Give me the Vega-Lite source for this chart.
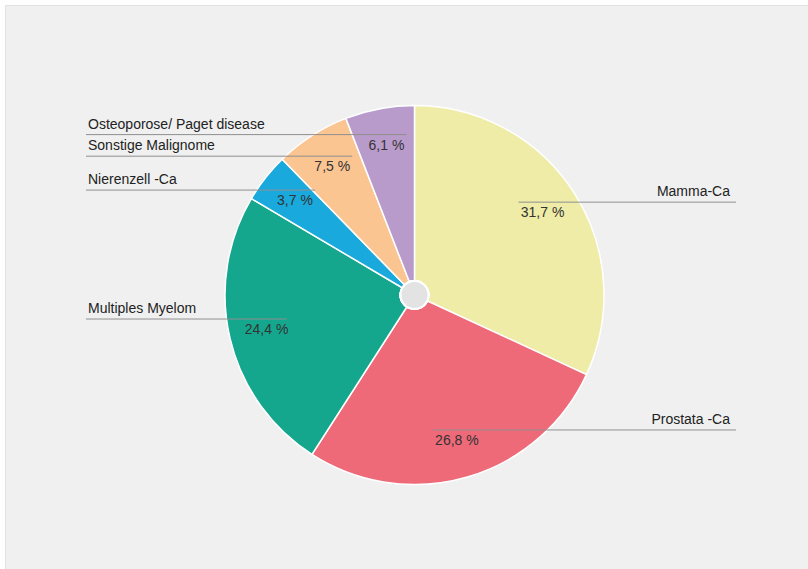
{
  "$schema": "https://vega.github.io/schema/vega-lite/v6.json",
  "width": 808,
  "height": 569,
  "autosize": {"type": "fit", "contains": "padding"},
  "padding": {"left": 5, "top": 5, "right": 0, "bottom": 0},
  "background": "#ffffff",
  "config": {
    "view": {"fill": "#f0f0f0", "stroke": "#e2e2e2", "strokeWidth": 1},
    "font": "Liberation Sans"
  },
  "data": {
    "values": [
      {"cat": "Mamma-Ca", "value": 31.7, "slice": 31.9, "order": 1},
      {"cat": "Prostata -Ca", "value": 26.8, "slice": 27.2, "order": 2},
      {"cat": "Multiples Myelom", "value": 24.4, "slice": 24.4, "order": 3},
      {"cat": "Nierenzell -Ca", "value": 3.7, "slice": 4.2, "order": 4},
      {"cat": "Sonstige Malignome", "value": 7.5, "slice": 6.4, "order": 5},
      {"cat": "Osteoporose/ Paget disease", "value": 6.1, "slice": 5.9, "order": 6}
    ]
  },
  "transform": [
    {"window": [{"op": "sum", "field": "slice", "as": "cum"}], "sort": [{"field": "order"}], "frame": [null, 0]},
    {"joinaggregate": [{"op": "sum", "field": "slice", "as": "total"}]},
    {"calculate": "(datum.cum - datum.slice / 2) / datum.total * 2 * PI", "as": "mid"},
    {"calculate": "152 * sin(datum.mid)", "as": "px"},
    {"calculate": "152 * cos(datum.mid)", "as": "py"},
    {"calculate": "datum.mid < PI", "as": "right"},
    {"calculate": "datum.py + 11", "as": "ly"},
    {"calculate": "datum.right ? datum.px - 24 : -328.5", "as": "lx1"},
    {"calculate": "datum.right ? 321.5 : datum.px + 20", "as": "lx2"},
    {"calculate": "datum.right ? 315.5 : -326.5", "as": "tx"},
    {"calculate": "datum.ly + 10", "as": "ty"},
    {"calculate": "replace(format(datum.value, '.1f'), '.', ',') + ' %'", "as": "pct"}
  ],
  "layer": [
    {
      "mark": {"type": "arc", "outerRadius": 189.5, "stroke": "#ffffff", "strokeWidth": 1.5},
      "encoding": {
        "theta": {"field": "slice", "type": "quantitative", "stack": true},
        "order": {"field": "order", "type": "quantitative"},
        "color": {
          "field": "cat",
          "type": "nominal",
          "scale": {
            "domain": ["Mamma-Ca", "Prostata -Ca", "Multiples Myelom", "Nierenzell -Ca", "Sonstige Malignome", "Osteoporose/ Paget disease"],
            "range": ["#eeeca7", "#ee6a79", "#15a78e", "#1aa9dc", "#fbc592", "#b99bcb"]
          },
          "legend": null
        },
        "x": {"datum": 0, "type": "quantitative", "scale": {"domain": [-409.5, 393.5], "nice": false, "zero": false}, "axis": null},
        "y": {"datum": 0, "type": "quantitative", "scale": {"domain": [-274, 290], "nice": false, "zero": false}, "axis": null}
      }
    },
    {
      "mark": {"type": "point", "filled": true, "size": 784, "shape": "circle", "color": "#e3e3e3", "stroke": "#ffffff", "strokeWidth": 2, "opacity": 1},
      "encoding": {
        "x": {"datum": 0, "type": "quantitative"},
        "y": {"datum": 0, "type": "quantitative"}
      }
    },
    {
      "mark": {"type": "rule", "color": "#8f8f8f", "strokeWidth": 1},
      "encoding": {
        "x": {"field": "lx1", "type": "quantitative"},
        "x2": {"field": "lx2"},
        "y": {"field": "ly", "type": "quantitative"}
      }
    },
    {
      "mark": {"type": "text", "fontSize": 14, "color": "#333333", "align": "center", "baseline": "middle"},
      "encoding": {
        "x": {"field": "px", "type": "quantitative"},
        "y": {"field": "py", "type": "quantitative"},
        "text": {"field": "pct", "type": "nominal"}
      }
    },
    {
      "transform": [{"filter": "datum.right"}],
      "mark": {"type": "text", "fontSize": 14, "color": "#222222", "align": "right", "baseline": "middle"},
      "encoding": {
        "x": {"field": "tx", "type": "quantitative"},
        "y": {"field": "ty", "type": "quantitative"},
        "text": {"field": "cat", "type": "nominal"}
      }
    },
    {
      "transform": [{"filter": "!datum.right"}],
      "mark": {"type": "text", "fontSize": 14, "color": "#222222", "align": "left", "baseline": "middle"},
      "encoding": {
        "x": {"field": "tx", "type": "quantitative"},
        "y": {"field": "ty", "type": "quantitative"},
        "text": {"field": "cat", "type": "nominal"}
      }
    }
  ]
}
